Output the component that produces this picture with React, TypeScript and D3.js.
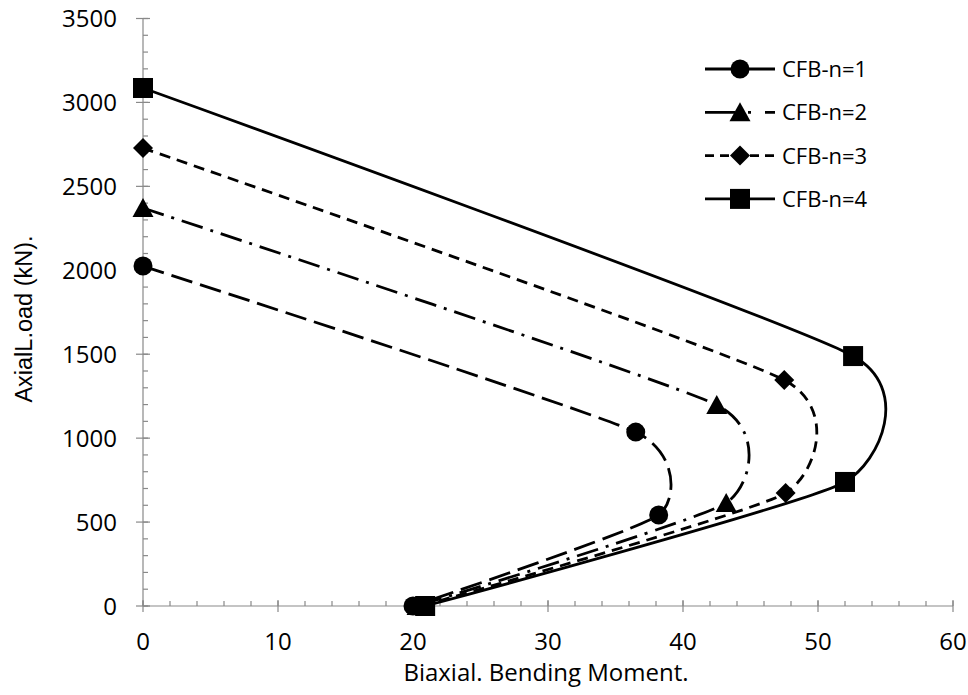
import * as d3 from "d3";

const W = 968;
const H = 695;

// data
const seriesNames = ["CFB-n=1", "CFB-n=2", "CFB-n=3", "CFB-n=4"];
const moments = [
  [0, 36.5, 38.2, 20.0],
  [0, 42.5, 43.2, 20.3],
  [0, 47.5, 47.6, 20.6],
  [0, 52.6, 52.0, 20.9],
];
const loads = [
  [2025, 1036, 542, 0],
  [2371, 1197, 614, 0],
  [2728, 1346, 673, 0],
  [3086, 1489, 739, 0],
];
const xTicks = [0, 10, 20, 30, 40, 50, 60];
const yTicks = [0, 500, 1000, 1500, 2000, 2500, 3000, 3500];

const markerKinds = ["circle", "triangle", "diamond", "square"];
const dashes = ["22 8", "22 8 3 8", "11 7", null];
const legendDashes = [null, "30 13 3 14 20", "9 6", null];

const FONT = "'Open Sans', sans-serif";
const AXIS = "#898989";

function Marker({ kind, x, y }: { kind: string; x: number; y: number }) {
  if (kind === "circle") return <circle cx={x} cy={y} r={9.5} fill="#000" />;
  if (kind === "square")
    return <rect x={x - 10} y={y - 10} width={20} height={20} fill="#000" />;
  if (kind === "diamond")
    return (
      <path
        d={`M${x},${y - 10}L${x + 10},${y}L${x},${y + 10}L${x - 10},${y}Z`}
        fill="#000"
      />
    );
  return (
    <path
      d={`M${x},${y - 10}L${x + 10.5},${y + 9}L${x - 10.5},${y + 9}Z`}
      fill="#000"
    />
  );
}

export default function App() {
  const x = d3.scaleLinear().domain([0, 60]).range([143, 953]);
  const y = d3.scaleLinear().domain([0, 3500]).range([606, 18.5]);

  const line = d3
    .line<[number, number]>()
    .x((d) => x(d[0]))
    .y((d) => y(d[1]))
    .curve(d3.curveCardinal.tension(0.5));

  const xMinor = d3.range(0, 60.001, 2);
  const yMinor = d3.range(0, 3500.001, 100);

  return (
    <svg
      width={W}
      height={H}
      style={{ position: "absolute", left: 0, top: 0, background: "#fff" }}
      fontFamily={FONT}
    >
      {/* axes */}
      <g stroke={AXIS} strokeWidth={1.2}>
        <line x1={x(0)} x2={x(60)} y1={y(0)} y2={y(0)} />
        <line x1={x(0)} x2={x(0)} y1={y(0)} y2={y(3500)} />
        {xMinor.map((v) => (
          <line key={"xm" + v} x1={x(v)} x2={x(v)} y1={y(0)} y2={y(0) - 5} />
        ))}
        {xTicks.map((v) => (
          <line key={"xM" + v} x1={x(v)} x2={x(v)} y1={y(0) - 6} y2={y(0) + 6} />
        ))}
        {yMinor.map((v) => (
          <line key={"ym" + v} x1={x(0)} x2={x(0) + 5} y1={y(v)} y2={y(v)} />
        ))}
        {yTicks.map((v) => (
          <line key={"yM" + v} x1={x(0) - 7} x2={x(0) + 7} y1={y(v)} y2={y(v)} />
        ))}
      </g>
      <g fontSize={24} fill="#000">
        {xTicks.map((v) => (
          <text key={"xt" + v} x={x(v)} y={y(0) + 44} textAnchor="middle">
            {v}
          </text>
        ))}
        {yTicks.map((v) => (
          <text key={"yt" + v} x={x(0) - 26} y={y(v) + 8.5} textAnchor="end">
            {v}
          </text>
        ))}
      </g>
      <text x={546} y={681} textAnchor="middle" fontSize={24}>
        Biaxial. Bending Moment.
      </text>
      <text
        transform={`translate(32,${319}) rotate(-90)`}
        textAnchor="middle"
        fontSize={23.5}
        fontFamily="'Liberation Sans', Arial, sans-serif"
      >
        AxialL.oad (kN).
      </text>

      {/* series */}
      {seriesNames.map((name, i) => {
        const pts = moments[i].map((m, j) => [m, loads[i][j]] as [number, number]);
        return (
          <g key={name}>
            <path
              d={line(pts) || ""}
              fill="none"
              stroke="#000"
              strokeWidth={2.8}
              strokeDasharray={dashes[i] || undefined}
            />
            {pts.map((p, j) => (
              <Marker key={j} kind={markerKinds[i]} x={x(p[0])} y={y(p[1])} />
            ))}
          </g>
        );
      })}

      {/* legend */}
      {seriesNames.map((name, i) => {
        const ly = 69 + i * 43.3;
        return (
          <g key={"lg" + name}>
            <line
              x1={705}
              x2={775}
              y1={ly}
              y2={ly}
              stroke="#000"
              strokeWidth={2.8}
              strokeDasharray={legendDashes[i] || undefined}
            />
            <Marker kind={markerKinds[i]} x={740} y={ly} />
            <text x={782} y={ly + 8} fontSize={22}>
              {name}
            </text>
          </g>
        );
      })}
    </svg>
  );
}
